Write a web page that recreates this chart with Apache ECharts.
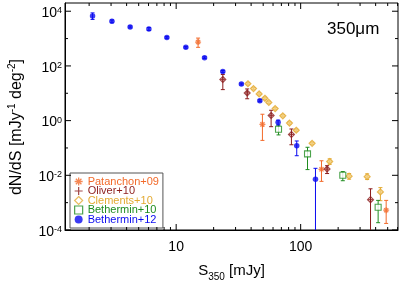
<!DOCTYPE html>
<html>
<head>
<meta charset="utf-8">
<script src="https://cdn.jsdelivr.net/npm/echarts@6/dist/echarts.min.js"></script>
<style>html,body{margin:0;padding:0;background:#fff}#c{width:407px;height:287px}</style>
</head>
<body>
<div id="c"></div>
<script>
// ---- data (S in mJy, dN/dS in mJy^-1 deg^-2) ----
const patanchonS   = [15.0, 49.3, 147, 486];
const patanchonV   = [748, 0.73, 0.0166, 5.3e-4];
const patanchonLo  = [479, 0.189, 0.006, 1.74e-4];
const patanchonHi  = [1042, 1.71, 0.034, 1.21e-3];

const oliverS  = [23.7, 37.2, 57.9, 84.3, 163, 364];
const oliverV  = [32.1, 10.3, 1.54, 0.311, 0.0169, 0.00129];
const oliverLo = [13.6, 6.3, 0.60, 0.131, 0.0116, 1e-4];
const oliverHi = [48.6, 14.4, 2.39, 0.494, 0.0225, 0.00321];

const clementsS  = [37.7, 41.8, 46.4, 51.6, 55.5, 62.4, 71.9, 81.3, 92.1, 123.6, 171, 245, 342, 437];
const clementsV  = [22.3, 14.8, 9.5, 6.56, 4.63, 2.75, 1.50, 0.813, 0.444, 0.148, 0.0319, 0.0093, 0.0089, 0.00247];
const clementsLo = [20.3, 13.5, 8.7, 6.0, 4.2, 2.5, 1.37, 0.74, 0.405, 0.135, 0.0251, 0.0072, 0.0070, 0.00118];
const clementsHi = [24.5, 16.2, 10.4, 7.2, 5.1, 3.0, 1.64, 0.89, 0.487, 0.162, 0.0402, 0.0116, 0.0113, 0.00355];

const bethermin10S  = [66.4, 113.5, 218, 419];
const bethermin10V  = [0.482, 0.0608, 0.0101, 6.8e-4];
const bethermin10Lo = [0.30, 0.0162, 0.00634, 1.85e-4];
const bethermin10Hi = [0.689, 0.106, 0.0137, 1.21e-3];

const bethermin12S  = [2.13, 3.05, 4.27, 6.04, 8.42, 11.96, 16.9, 23.7, 33.4, 47.0, 65.9, 93.0, 131.5];
const bethermin12V  = [6760, 4260, 2660, 2250, 1100, 478, 200, 62.4, 21.8, 5.33, 0.88, 0.121, 0.0072];
const bethermin12Lo = [5020, 3800, 2450, 1980, 1020, 445, 186, 57, 20, 4.9, 0.69, 0.052, 1e-4];
const bethermin12Hi = [8690, 4800, 2900, 2550, 1180, 510, 215, 68, 23.5, 5.8, 1.04, 0.18, 0.018];

const xMinorTicks = [2,3,4,5,6,7,8,9,20,30,40,50,60,70,80,90,200,300,400,500,600];
const xMajorTicks = [10, 100];
const yTicks = [1e-4, 1e-3, 1e-2, 1e-1, 1, 10, 100, 1000, 1e4];
const yLabelExps = [-4, -2, 0, 2, 4];

const X_MIN = 1.28, X_MAX = 605, Y_MIN = 1e-4, Y_MAX = 2e4;
const FONT = 'Liberation Sans, Arial, Helvetica, sans-serif';

const C_PAT = '#f26a2a', C_OLI = '#8c1c1c', C_CLE = '#e3aa33', C_B10 = '#1f8c1f', C_B12 = '#0a0af0';

const zip3 = (a, b, c) => a.map((v, i) => [v, b[i], c[i]]);
const zip2 = (a, b) => a.map((v, i) => [v, b[i]]);

function errSeries(name, S, lo, hi, color) {
  return {
    name: name + ' err', type: 'custom', z: 2,
    encode: {x: 0, y: [1, 2]},
    data: zip3(S, lo, hi),
    renderItem: function (params, api) {
      const x = api.value(0), l = api.value(1), h = api.value(2);
      const pl = api.coord([x, l]), ph = api.coord([x, h]);
      const st = {stroke: color, lineWidth: 1};
      const ch = [
        {type: 'line', shape: {x1: pl[0], y1: pl[1], x2: ph[0], y2: ph[1]}, style: st},
        {type: 'line', shape: {x1: ph[0] - 2, y1: ph[1], x2: ph[0] + 2, y2: ph[1]}, style: st}
      ];
      if (l > Y_MIN * 1.01) ch.push({type: 'line', shape: {x1: pl[0] - 2, y1: pl[1], x2: pl[0] + 2, y2: pl[1]}, style: st});
      return {type: 'group', children: ch};
    }
  };
}

const ASTER = 'path://M0,5L10,5M5,0L5,10M1.5,1.5L8.5,8.5M1.5,8.5L8.5,1.5';
const PLUSDIA = 'path://M5,0L10,5L5,10L0,5ZM5,0L5,10M0,5L10,5';
const PLUS = 'path://M0,5L10,5M5,0L5,10';

function tickSeries() {
  const data = [];
  xMinorTicks.forEach(v => data.push([v, Y_MIN, 0, 0]));
  xMajorTicks.forEach(v => data.push([v, Y_MIN, 0, 1]));
  yTicks.forEach(v => {
    const e = Math.round(Math.log10(v));
    data.push([X_MIN, v, 1, yLabelExps.indexOf(e) >= 0 ? 1 : 0]);
  });
  return {
    type: 'custom', z: 5, silent: true,
    encode: {x: 0, y: 1},
    data: data,
    renderItem: function (params, api) {
      const v0 = api.value(0), v1 = api.value(1), isY = api.value(2), major = api.value(3);
      const st = {stroke: '#000', lineWidth: 1};
      const len = major ? 6 : 3;
      if (!isY) {
        const b = api.coord([v0, Y_MIN]), t = api.coord([v0, Y_MAX]);
        return {type: 'group', children: [
          {type: 'line', shape: {x1: b[0], y1: b[1], x2: b[0], y2: b[1] - len}, style: st},
          {type: 'line', shape: {x1: t[0], y1: t[1], x2: t[0], y2: t[1] + len}, style: st}
        ]};
      } else {
        const l = api.coord([X_MIN, v1]), r = api.coord([X_MAX, v1]);
        return {type: 'group', children: [
          {type: 'line', shape: {x1: l[0], y1: l[1], x2: l[0] + len, y2: l[1]}, style: st},
          {type: 'line', shape: {x1: r[0], y1: r[1], x2: r[0] - len, y2: r[1]}, style: st}
        ]};
      }
    }
  };
}

const chart = echarts.init(document.getElementById('c'), null, {renderer: 'canvas'});
chart.setOption({
  animation: false,
  backgroundColor: '#fff',
  textStyle: {fontFamily: FONT},
  grid: {left: 65, right: 9, top: 3, bottom: 53, show: true, borderColor: '#000', borderWidth: 1, backgroundColor: 'transparent'},
  title: {text: '350μm', left: 322, top: 16, textStyle: {fontSize: 17, fontWeight: 'normal', color: '#000', fontFamily: FONT}},
  xAxis: {
    type: 'log', logBase: 10, min: X_MIN, max: X_MAX,
    axisLine: {show: true, lineStyle: {color: '#000', width: 1}},
    axisTick: {show: false}, splitLine: {show: false},
    axisLabel: {
      margin: 10, color: '#000', fontSize: 14, fontFamily: FONT,
      formatter: function (v) {
        return xMajorTicks.some(t => Math.abs(t - v) / t < 1e-6) ? String(Math.round(v)) : '';
      }
    },
    name: 'S{sub|350} [mJy]', nameLocation: 'middle', nameGap: 30,
    nameTextStyle: {color: '#000', fontSize: 15, fontFamily: FONT, lineHeight: 22,
      rich: {sub: {fontSize: 10, verticalAlign: 'bottom', fontFamily: FONT, color: '#000'}}}
  },
  yAxis: {
    type: 'log', logBase: 10, min: Y_MIN, max: Y_MAX,
    axisLine: {show: true, lineStyle: {color: '#000', width: 1}},
    axisTick: {show: false}, splitLine: {show: false},
    axisLabel: {
      margin: 3, color: '#000', fontFamily: FONT,
      formatter: function (v) {
        const e = Math.log10(v), r = Math.round(e);
        if (Math.abs(e - r) > 1e-6 || yLabelExps.indexOf(r) < 0) return '';
        return '{b|10}{s|' + r + '}';
      },
      rich: {
        b: {fontSize: 14, lineHeight: 18, color: '#000', fontFamily: FONT, padding: [4, 0, 0, 0]},
        s: {fontSize: 9, verticalAlign: 'top', color: '#000', fontFamily: FONT, padding: [4, 0, 0, 0]}
      }
    }
  },
  graphic: [{
    type: 'text', x: 17, y: 127, rotation: Math.PI / 2,
    style: {
      text: 'dN/dS [mJy{s|-1} deg{s|-2}]', fill: '#000', font: '16px ' + FONT,
      align: 'center', verticalAlign: 'middle', lineHeight: 20,
      rich: {s: {fontSize: 10, verticalAlign: 'top', fill: '#000', fontFamily: FONT}}
    }
  }],
  legend: {
    orient: 'vertical', left: 70, top: 173,
    itemWidth: 8, itemHeight: 8, itemGap: -1.5,
    padding: [3, 4, 3, 4],
    borderColor: '#555', borderWidth: 1, backgroundColor: '#fff',
    selectedMode: false,
    textStyle: {fontSize: 11, fontFamily: FONT},
    data: [
      {name: 'Patanchon+09', icon: ASTER, itemStyle: {color: 'rgba(0,0,0,0)', borderColor: C_PAT, borderWidth: 1.3}, textStyle: {color: C_PAT}},
      {name: 'Oliver+10', icon: PLUS, itemStyle: {color: 'rgba(0,0,0,0)', borderColor: C_OLI, borderWidth: 1.2}, textStyle: {color: C_OLI}},
      {name: 'Clements+10', icon: 'diamond', itemStyle: {color: '#fff', borderColor: C_CLE, borderWidth: 1.2}, textStyle: {color: C_CLE}},
      {name: 'Bethermin+10', icon: 'rect', itemStyle: {color: '#fff', borderColor: C_B10, borderWidth: 1.2}, textStyle: {color: C_B10}},
      {name: 'Bethermin+12', icon: 'circle', itemStyle: {color: C_B12, borderColor: C_B12, borderWidth: 0}, textStyle: {color: C_B12}}
    ]
  },
  series: [
    tickSeries(),
    errSeries('Patanchon+09', patanchonS, patanchonLo, patanchonHi, C_PAT),
    errSeries('Oliver+10', oliverS, oliverLo, oliverHi, C_OLI),
    errSeries('Clements+10', clementsS, clementsLo, clementsHi, C_CLE),
    errSeries('Bethermin+10', bethermin10S, bethermin10Lo, bethermin10Hi, C_B10),
    errSeries('Bethermin+12', bethermin12S, bethermin12Lo, bethermin12Hi, C_B12),
    {name: 'Patanchon+09', type: 'scatter', z: 3, symbol: ASTER, symbolSize: 6,
      itemStyle: {color: 'rgba(0,0,0,0)', borderColor: C_PAT, borderWidth: 1.3}, data: zip2(patanchonS, patanchonV)},
    {name: 'Oliver+10', type: 'scatter', z: 3, symbol: PLUSDIA, symbolSize: 6,
      itemStyle: {color: 'rgba(0,0,0,0)', borderColor: C_OLI, borderWidth: 1.1}, data: zip2(oliverS, oliverV)},
    {name: 'Clements+10', type: 'scatter', z: 3, symbol: 'diamond', symbolSize: 6,
      itemStyle: {color: '#f2cf80', borderColor: C_CLE, borderWidth: 1.2}, data: zip2(clementsS, clementsV)},
    {name: 'Bethermin+10', type: 'scatter', z: 3, symbol: 'rect', symbolSize: 6,
      itemStyle: {color: '#fff', borderColor: C_B10, borderWidth: 1.1}, data: zip2(bethermin10S, bethermin10V)},
    {name: 'Bethermin+12', type: 'scatter', z: 3, symbol: 'circle', symbolSize: 5.5,
      itemStyle: {color: C_B12}, data: zip2(bethermin12S, bethermin12V)}
  ]
});
</script>
</body>
</html>
